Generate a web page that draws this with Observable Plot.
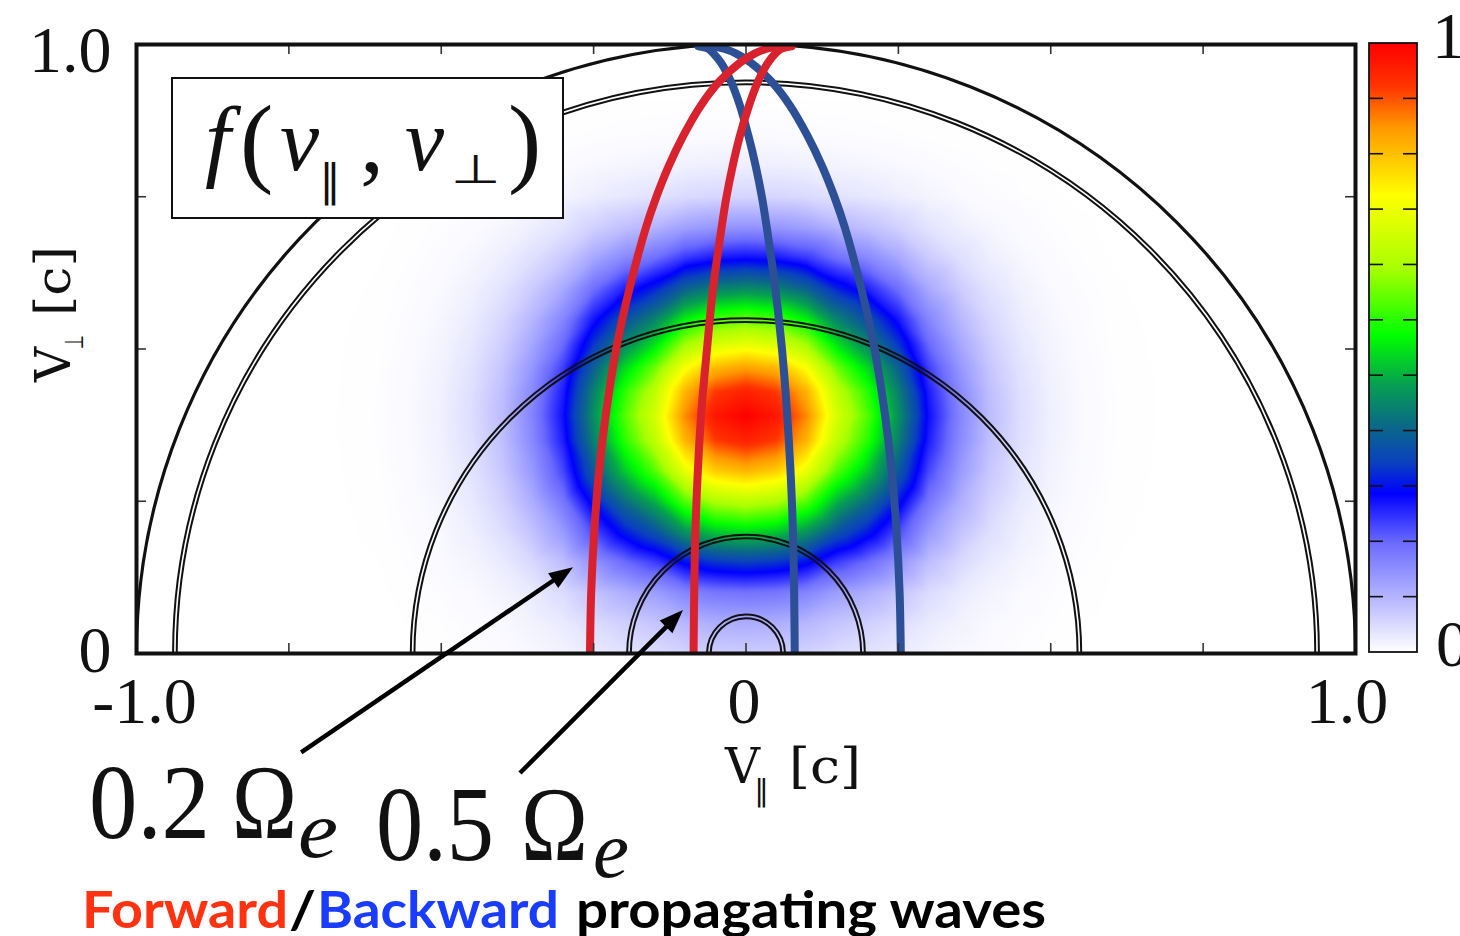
<!DOCTYPE html>
<html><head><meta charset="utf-8">
<script src="https://cdn.jsdelivr.net/npm/d3@7"></script>
<script src="https://cdn.jsdelivr.net/npm/@observablehq/plot@0.6"></script>
<style>html,body{margin:0;padding:0;background:#fff;overflow:hidden}</style>
</head><body><div id="chart"></div><script>
// ---------- data ----------
// distribution profile along v_par (offset from centre, symmetric) at the peak row
const parOffsets = [0, 0.05, 0.10, 0.15, 0.20, 0.25, 0.30, 0.35, 0.40, 0.45, 0.50, 0.55, 0.60, 0.70];
const parProfile = [1.00, 0.97, 0.87, 0.69, 0.57, 0.42, 0.25, 0.15, 0.08, 0.04, 0.018, 0.007, 0.002, 0];
// distribution profile along v_perp at v_par = 0
const perpPos = [0, 0.05, 0.10, 0.15, 0.20, 0.25, 0.30, 0.35, 0.39, 0.43, 0.47, 0.51, 0.55, 0.60, 0.65, 0.70, 0.75, 0.80, 0.85, 0.92];
const perpProfile = [0.06, 0.10, 0.17, 0.31, 0.49, 0.66, 0.83, 0.955, 1.00, 0.955, 0.85, 0.71, 0.58, 0.41, 0.25, 0.13, 0.05, 0.02, 0.005, 0];

// constant-energy rings (radii in c)
const outerRing = [1.0];
const innerRings = [0.94, 0.934, 0.55, 0.544, 0.195, 0.189, 0.064, 0.058];

// resonance curves
const fwd02Perp = [0, 0.1, 0.2, 0.3, 0.4, 0.5, 0.6, 0.7, 0.75, 0.8, 0.85, 0.9, 0.94, 0.97, 0.985, 0.993, 0.997, 0.9974];
const fwd02Par  = [-0.256, -0.254, -0.249, -0.241, -0.229, -0.213, -0.191, -0.164, -0.147, -0.127, -0.103, -0.074, -0.043, -0.010, 0.014, 0.034, 0.054, 0.072];
const bwd02Perp = [0, 0.1, 0.2, 0.3, 0.4, 0.5, 0.6, 0.7, 0.75, 0.8, 0.85, 0.9, 0.94, 0.97, 0.985, 0.993, 0.997, 0.9974];
const bwd02Par  = [0.254, 0.252, 0.247, 0.239, 0.227, 0.211, 0.189, 0.162, 0.145, 0.125, 0.101, 0.072, 0.041, 0.008, -0.016, -0.036, -0.056, -0.074];
const fwd05Perp = [0, 0.1, 0.2, 0.3, 0.4, 0.5, 0.6, 0.7, 0.75, 0.8, 0.85, 0.9, 0.94, 0.97, 0.985, 0.993, 0.9972];
const fwd05Par  = [-0.086, -0.085, -0.083, -0.079, -0.073, -0.064, -0.054, -0.040, -0.032, -0.022, -0.010, 0.005, 0.020, 0.036, 0.048, 0.058, 0.075];
const bwd05Perp = [0, 0.1, 0.2, 0.3, 0.4, 0.5, 0.6, 0.7, 0.75, 0.8, 0.85, 0.9, 0.94, 0.97, 0.985, 0.993, 0.9972];
const bwd05Par  = [0.080, 0.079, 0.077, 0.073, 0.067, 0.059, 0.048, 0.034, 0.026, 0.016, 0.004, -0.010, -0.025, -0.041, -0.053, -0.062, -0.078];

// axes
const xTicks = [-0.75, -0.5, -0.25, 0, 0.25, 0.5, 0.75];
const yTicks = [0.25, 0.5, 0.75];
const xTickVals = [-1, 0, 1];
const xTickLabels = ["-1.0", "0", "1.0"];
const yTickVals = [0, 1];
const yTickLabels = ["0", "1.0"];

// colour map
const colorStops = [0, 0.09, 0.18, 0.26, 0.31, 0.37, 0.44, 0.52, 0.63, 0.75, 0.86, 0.93, 1];
const colorRange = ["#ffffff", "#b4b4ff", "#6a6aff", "#0000ff", "#0a40c0", "#0b6888", "#06a050", "#00ff00", "#a8ff00", "#ffff00", "#ff9900", "#ff3300", "#ff0000"];
const colorbarTickCount = 11;
const colorbarLabels = ["0", "1"];

// annotation arrows (tail -> head), in (v_par, v_perp)
const arrowTails = [[-0.729, -0.163], [-0.370, -0.197]];
const arrowHeads = [[-0.283, 0.141], [-0.1025, 0.0706]];

// ---------- layout / style ----------
const W = 1460, H = 936;
const M = {left: 136, right: 105, top: 44, bottom: 283};
const fw = W - M.left - M.right, fh = H - M.top - M.bottom;
const tickLenY = 10 / fh, tickLenX = 10 / (fw / 2);
const RED = "#d8232f", BLUE = "#2c4f96";
const SERIF = "Liberation Serif, DejaVu Serif, serif";
const xLabelDx = [8, -2, -8.5];
const yLabelDy = [-3, 6];

// table for the raster, built from the profiles
const heat = [];
parOffsets.forEach((o, i) => {
  (o === 0 ? [1] : [-1, 1]).forEach(s => {
    perpPos.forEach((p, j) => heat.push({vpar: s * o, vperp: p, f: parProfile[i] * perpProfile[j]}));
  });
});
const toPts = (par, perp) => par.map((v, i) => ({vpar: v, vperp: perp[i]}));

const plot = Plot.plot({
  width: W, height: H,
  marginLeft: M.left, marginRight: M.right, marginTop: M.top, marginBottom: M.bottom,
  x: {domain: [-1, 1], axis: null},
  y: {domain: [0, 1], axis: null},
  r: {type: "linear", domain: [0, 1], range: [0, fw / 2]},
  color: {type: "linear", domain: colorStops, range: colorRange, interpolate: "rgb"},
  style: {background: "white", overflow: "visible"},
  marks: [
    Plot.raster(heat, {x: "vpar", y: "vperp", fill: "f", interpolate: "barycentric", x1: -1, x2: 1, y1: 0, y2: 1}),
    Plot.dot(innerRings, {x: () => 0, y: () => 0, r: d => d, fill: "none", stroke: "#111", strokeWidth: 2, clip: true}),
    Plot.dot(outerRing, {x: () => 0, y: () => 0, r: d => d, fill: "none", stroke: "#111", strokeWidth: 3.2, clip: true}),
    Plot.line(toPts(bwd02Par, bwd02Perp), {x: "vpar", y: "vperp", stroke: BLUE, strokeWidth: 8, curve: "catmull-rom", clip: true}),
    Plot.line(toPts(bwd05Par, bwd05Perp), {x: "vpar", y: "vperp", stroke: BLUE, strokeWidth: 8, curve: "catmull-rom", clip: true}),
    Plot.line(toPts(fwd02Par, fwd02Perp), {x: "vpar", y: "vperp", stroke: RED, strokeWidth: 8, curve: "catmull-rom", clip: true}),
    Plot.line(toPts(fwd05Par, fwd05Perp), {x: "vpar", y: "vperp", stroke: RED, strokeWidth: 8, curve: "catmull-rom", clip: true}),
    Plot.ruleX(xTicks, {x: d => d, y1: 0, y2: tickLenY, stroke: "#333", strokeWidth: 1.6}),
    Plot.ruleX(xTicks, {x: d => d, y1: 1 - tickLenY, y2: 1, stroke: "#333", strokeWidth: 1.6}),
    Plot.ruleY(yTicks, {y: d => d, x1: -1, x2: -1 + tickLenX, stroke: "#333", strokeWidth: 1.6}),
    Plot.ruleY(yTicks, {y: d => d, x1: 1 - tickLenX, x2: 1, stroke: "#333", strokeWidth: 1.6}),
    Plot.frame({stroke: "#111", strokeWidth: 4}),
    ...xTickVals.map((v, i) => Plot.text([xTickLabels[i]], {x: () => v, y: () => 0, text: d => d, dy: 69, dx: xLabelDx[i], lineAnchor: "bottom", textAnchor: "middle", fontSize: 66, fontFamily: SERIF, fill: "#111"})),
    ...yTickVals.map((v, i) => Plot.text([yTickLabels[i]], {x: () => -1, y: () => v, text: d => d, dx: -25, dy: yLabelDy[i], lineAnchor: "middle", textAnchor: "end", fontSize: 66, fontFamily: SERIF, fill: "#111"}))
  ]
});
document.getElementById("chart").appendChild(plot);

// ---------- annotations ----------
const svg = d3.select(plot);
const sx = plot.scale("x"), sy = plot.scale("y");
const X = v => sx.apply(v), Y = v => sy.apply(v);

// helper for text pieces
function piece(g, txt, x, y, size, opts = {}) {
  const t = g.append("text").attr("x", x).attr("y", y).attr("font-size", size)
    .attr("text-anchor", "start")
    .attr("font-family", opts.family || SERIF).attr("fill", opts.fill || "#111").text(txt);
  if (opts.italic) t.attr("font-style", "italic");
  if (opts.weight) t.attr("font-weight", opts.weight);
  if (opts.len) t.attr("textLength", opts.len).attr("lengthAdjust", "spacingAndGlyphs");
  return t;
}

// colour bar
const cb = {x: 1369, w: 48, y0: Y(1) - 1, y1: Y(0) - 1};
const defs = svg.append("defs");
const grad = defs.append("linearGradient").attr("id", "cbgrad").attr("x1", 0).attr("y1", 1).attr("x2", 0).attr("y2", 0);
colorStops.forEach((s, i) => grad.append("stop").attr("offset", s).attr("stop-color", colorRange[i]));
svg.append("rect").attr("x", cb.x).attr("y", cb.y0).attr("width", cb.w).attr("height", cb.y1 - cb.y0)
  .attr("fill", "url(#cbgrad)").attr("stroke", "#111").attr("stroke-width", 1.8);
for (let k = 1; k < colorbarTickCount; k++) {
  const yy = cb.y1 - k * (cb.y1 - cb.y0) / colorbarTickCount;
  svg.append("line").attr("x1", cb.x).attr("x2", cb.x + 14).attr("y1", yy).attr("y2", yy).attr("stroke", "#111").attr("stroke-width", 1.6);
  svg.append("line").attr("x1", cb.x + cb.w - 14).attr("x2", cb.x + cb.w).attr("y1", yy).attr("y2", yy).attr("stroke", "#111").attr("stroke-width", 1.6);
}
piece(svg, colorbarLabels[1], 1432, 58, 66);
piece(svg, colorbarLabels[0], 1436, 666, 66);

// axis titles
const AX = "DejaVu Serif, Liberation Serif, serif";
piece(svg, "V", 725, 783, 48, {family: AX, len: 35});
piece(svg, "\u2225", 754, 801, 30, {family: "DejaVu Sans, sans-serif"});
piece(svg, "[c]", 789, 783, 48, {family: AX, len: 72});
const yl = svg.append("g").attr("transform", "translate(70,382) rotate(-90)");
piece(yl, "V", 0, 0, 48, {family: AX, len: 35});
piece(yl, "\u22A5", 33, 13, 26, {family: "DejaVu Sans, sans-serif", len: 14});
piece(yl, "[c]", 66, 0, 48, {family: AX, len: 70});

// f(v_par, v_perp) box
svg.append("rect").attr("x", 172).attr("y", 78).attr("width", 391).attr("height", 140)
  .attr("fill", "white").attr("stroke", "#111").attr("stroke-width", 2);
piece(svg, "f", 205, 170, 92, {italic: true});
piece(svg, "(", 240, 174, 100);
piece(svg, "v", 280, 170, 88, {italic: true});
piece(svg, "\u2225", 319, 196, 44, {family: "DejaVu Sans, sans-serif"});
piece(svg, ",", 360, 172, 96);
piece(svg, "v", 405, 170, 88, {italic: true});
piece(svg, "\u22A5", 451, 183, 40, {family: "DejaVu Sans, sans-serif", len: 50});
piece(svg, ")", 508, 174, 100);

// frequency labels
piece(svg, "0.2", 89, 838, 105, {len: 121});
piece(svg, "\u03A9", 232, 838, 105, {len: 65});
piece(svg, "e", 298, 857, 80, {italic: true, len: 40});
piece(svg, "0.5", 376, 860, 105, {len: 118});
piece(svg, "\u03A9", 521, 860, 105, {len: 67});
piece(svg, "e", 593, 877, 80, {italic: true, len: 36});

// arrows
arrowTails.forEach((t, i) => {
  const h = arrowHeads[i];
  const x0 = X(t[0]), y0 = Y(t[1]), x1 = X(h[0]), y1 = Y(h[1]);
  const a = Math.atan2(y1 - y0, x1 - x0), L = 24, hw = 9;
  const bx = x1 - L * Math.cos(a), by = y1 - L * Math.sin(a);
  svg.append("line").attr("x1", x0).attr("y1", y0).attr("x2", bx + 2 * Math.cos(a)).attr("y2", by + 2 * Math.sin(a))
    .attr("stroke", "#000").attr("stroke-width", 4.5);
  svg.append("path").attr("fill", "#000")
    .attr("d", `M${x1},${y1}L${bx - hw * Math.sin(a)},${by + hw * Math.cos(a)}L${bx + hw * Math.sin(a)},${by - hw * Math.cos(a)}Z`);
});

// caption
const CAP = "Lato, 'Open Sans', sans-serif";
piece(svg, "Forward", 82, 928, 52, {family: CAP, weight: 700, fill: "#ff3311", len: 206});
piece(svg, "/", 289, 928, 52, {family: CAP, weight: 700, fill: "#000", len: 27});
piece(svg, "Backward", 317, 928, 52, {family: CAP, weight: 700, fill: "#1a3cff", len: 242});
piece(svg, "propagating waves", 576, 928, 52, {family: CAP, weight: 700, fill: "#000", len: 470});
</script></body></html>
